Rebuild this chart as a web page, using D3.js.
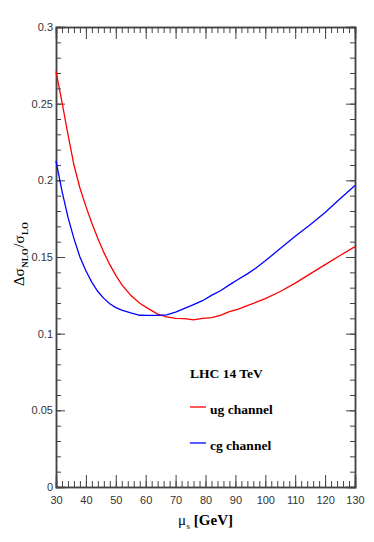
<!DOCTYPE html>
<html><head><meta charset="utf-8">
<script src="https://cdn.jsdelivr.net/npm/d3@7"></script>
<style>body{margin:0;background:#fff}svg{display:block}</style>
</head><body>
<svg id="c" width="374" height="542"></svg>
<script>
const mu = [30,32,34,36,38,40,42,44,46,48,50,52,55,58,61,64,67,70,73,76,79,82,85,88,91,94,97,100,105,110,115,120,125,130];
const ugChannel = [0.271,0.251,0.230,0.210,0.195,0.183,0.172,0.162,0.153,0.145,0.138,0.132,0.125,0.1198,0.1162,0.1128,0.1110,0.1100,0.1098,0.1090,0.1100,0.1105,0.1120,0.1143,0.1160,0.1183,0.1205,0.1228,0.1275,0.1330,0.1390,0.1450,0.1510,0.1568];
const cgChannel = [0.2127,0.193,0.176,0.162,0.150,0.141,0.1335,0.1275,0.1230,0.1195,0.1170,0.1153,0.1135,0.1120,0.1119,0.1119,0.1122,0.1140,0.1165,0.1190,0.1215,0.1250,0.1280,0.1318,0.1355,0.1390,0.1430,0.1475,0.1555,0.1635,0.1710,0.1790,0.1880,0.1966];
const xTicks = [30,40,50,60,70,80,90,100,110,120,130];
const yTicks = [0,0.05,0.1,0.15,0.2,0.25,0.3];
const yTickLabels = ["0","0.05","0.1","0.15","0.2","0.25","0.3"];
const seriesNames = ["ug channel","cg channel"];
const seriesColors = ["#ff0000","#0000ff"];
const title = "LHC 14 TeV";

const L=56, R=355, T=27, B=487;
const svg = d3.select("#c");
const x = d3.scaleLinear().domain([30,130]).range([L,R]);
const y = d3.scaleLinear().domain([0,0.3]).range([B,T]);
const axisCol = "#444";

const xMinor = d3.range(30,130.01,2);
const yMinor = d3.range(0,0.3001,0.01);

function styleAxis(g){
  g.select(".domain").attr("stroke",axisCol).attr("stroke-width",1.5);
  g.selectAll(".tick line").attr("stroke",axisCol).attr("stroke-width",1);
  g.selectAll(".tick text").attr("fill","#333").style("font-family","'Liberation Sans',Arial,sans-serif").style("font-size","11px");
}
// bottom
svg.append("g").attr("transform",`translate(0,${B})`)
  .call(d3.axisBottom(x).tickValues(xMinor).tickSize(-6).tickFormat(""))
  .call(styleAxis);
svg.append("g").attr("transform",`translate(0,${B})`)
  .call(d3.axisBottom(x).tickValues(xTicks).tickSize(-12).tickPadding(9).tickFormat(d3.format("d")))
  .call(styleAxis);
// top
svg.append("g").attr("transform",`translate(0,${T})`)
  .call(d3.axisTop(x).tickValues(xMinor).tickSize(-6).tickFormat(""))
  .call(styleAxis);
svg.append("g").attr("transform",`translate(0,${T})`)
  .call(d3.axisTop(x).tickValues(xTicks).tickSize(-12).tickFormat(""))
  .call(styleAxis);
// left
svg.append("g").attr("transform",`translate(${L},0)`)
  .call(d3.axisLeft(y).tickValues(yMinor).tickSize(-5).tickFormat(""))
  .call(styleAxis);
svg.append("g").attr("transform",`translate(${L},0)`)
  .call(d3.axisLeft(y).tickValues(yTicks).tickSize(-9).tickPadding(3).tickFormat((d,i)=>yTickLabels[i]))
  .call(styleAxis);
// right
svg.append("g").attr("transform",`translate(${R},0)`)
  .call(d3.axisRight(y).tickValues(yMinor).tickSize(-5).tickFormat(""))
  .call(styleAxis);
svg.append("g").attr("transform",`translate(${R},0)`)
  .call(d3.axisRight(y).tickValues(yTicks).tickSize(-9).tickFormat(""))
  .call(styleAxis);

// curves
const line = d3.line().x((d,i)=>x(mu[i])).y(d=>y(d));
[ugChannel,cgChannel].forEach((s,k)=>{
  svg.append("path").datum(s).attr("d",line).attr("fill","none")
    .attr("stroke",seriesColors[k]).attr("stroke-width",1.3);
});

// legend
const serif = "'Liberation Serif','Times New Roman',serif";
svg.append("text").attr("x",190).attr("y",378).text(title)
  .style("font-family",serif).style("font-weight","bold").style("font-size","13.5px").attr("fill","#000");
const legY = [407,443];
seriesNames.forEach((n,k)=>{
  svg.append("line").attr("x1",190).attr("x2",206).attr("y1",legY[k]).attr("y2",legY[k])
    .attr("stroke",seriesColors[k]).attr("stroke-width",1.3);
  svg.append("text").attr("x",210).attr("y",legY[k]+7).text(n)
    .style("font-family",serif).style("font-weight","bold").style("font-size","13.5px").attr("fill","#000");
});

// x title
const xt = svg.append("text").attr("x",178).attr("y",525)
  .style("font-family",serif).style("font-size","15px").attr("fill","#000");
xt.append("tspan").text("μ");
xt.append("tspan").text("s").attr("dy",4).attr("dx",0.5).style("font-size","9px");
xt.append("tspan").text(" [GeV]").attr("dy",-4).style("font-weight","bold");

// y title
const yt = svg.append("text").attr("transform","translate(24,222) rotate(-90)").attr("text-anchor","end")
  .style("font-family",serif).style("font-size","15px").attr("fill","#000");
yt.append("tspan").text("Δσ");
yt.append("tspan").text("NLO").attr("dy",4).attr("dx",0.5).style("font-size","9px").style("font-weight","bold");
yt.append("tspan").text("/σ").attr("dy",-4).attr("dx",0.5);
yt.append("tspan").text("LO").attr("dy",4).attr("dx",0.5).style("font-size","9px").style("font-weight","bold");
</script>
</body></html>
